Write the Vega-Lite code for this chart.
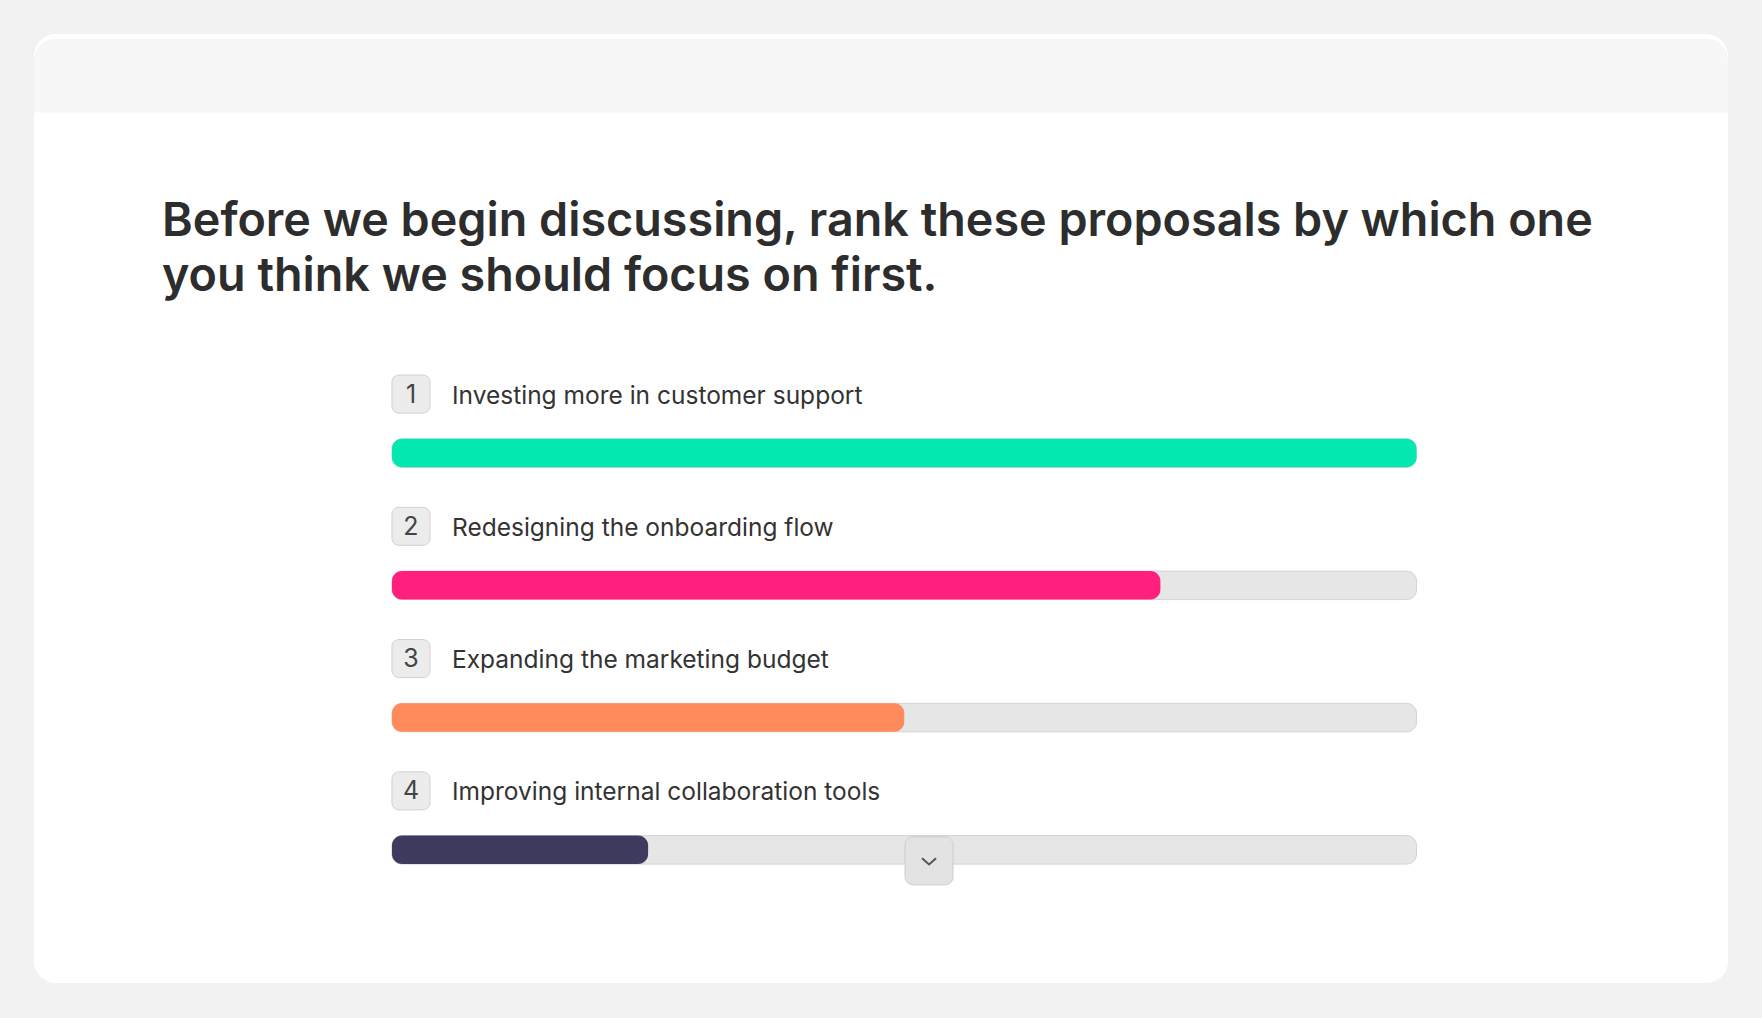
{
  "$schema": "https://vega.github.io/schema/vega-lite/v6.json",
  "width": 1694,
  "height": 949,
  "autosize": {"type": "none"},
  "padding": {"left": 34, "top": 34, "right": 34, "bottom": 35},
  "background": "#f2f2f2",
  "config": {"view": {"fill": "#ffffff", "stroke": null, "cornerRadius": 22}, "font": "Inter"},
  "title": {
    "text": ["Before we begin discussing, rank these proposals by which one", "you think we should focus on first."],
    "anchor": "start",
    "frame": "group",
    "offset": -304,
    "dx": 128,
    "fontSize": 46.7,
    "fontWeight": 600,
    "font": "Inter",
    "color": "#2d2d2d",
    "lineHeight": 55,
    "baseline": "alphabetic"
  },
  "data": {"values": [
    {"rank": 1, "label": "Investing more in customer support", "value": 100},
    {"rank": 2, "label": "Redesigning the onboarding flow", "value": 75},
    {"rank": 3, "label": "Expanding the marketing budget", "value": 50},
    {"rank": 4, "label": "Improving internal collaboration tools", "value": 25}
  ]},
  "layer": [
    {
      "data": {"values": [{}]},
      "mark": {"type": "rect", "fill": "#f7f7f7", "width": 1694, "height": 74, "cornerRadiusTopLeft": 22, "cornerRadiusTopRight": 22},
      "encoding": {
        "x": {"datum": 47.73, "type": "quantitative", "scale": {"domain": [-34.94, 130.4], "nice": false, "zero": false}, "axis": null},
        "y": {"datum": -1.8542, "type": "quantitative", "scale": {"domain": [-2.131, 4.969], "reverse": true, "nice": false, "zero": false}, "axis": null}
      }
    },
    {
      "mark": {"type": "bar", "orient": "horizontal", "fill": "#e6e6e6", "stroke": "#d3d3d3", "strokeWidth": 1, "cornerRadius": 10, "size": 28.5},
      "encoding": {
        "x": {"datum": 100, "type": "quantitative", "stack": null},
        "y": {"field": "rank", "type": "quantitative"}
      }
    },
    {
      "mark": {"type": "bar", "orient": "horizontal", "cornerRadius": 10, "size": 28.5},
      "encoding": {
        "x": {"field": "value", "type": "quantitative", "stack": null},
        "y": {"field": "rank", "type": "quantitative"},
        "color": {
          "field": "label",
          "type": "nominal",
          "scale": {
            "domain": ["Investing more in customer support", "Redesigning the onboarding flow", "Expanding the marketing budget", "Improving internal collaboration tools"],
            "range": ["#03e8b1", "#ff1f7d", "#ff8a5c", "#3e3b5e"]
          },
          "legend": null
        }
      }
    },
    {
      "mark": {"type": "bar", "orient": "horizontal", "fill": "#ececec", "stroke": "#d0d0d0", "strokeWidth": 1, "cornerRadius": 7, "size": 38, "yOffset": -59},
      "encoding": {
        "x": {"datum": 3.71, "type": "quantitative", "stack": null},
        "y": {"field": "rank", "type": "quantitative"}
      }
    },
    {
      "mark": {"type": "text", "align": "center", "baseline": "middle", "dy": -58.5, "fontSize": 25, "color": "#444444", "font": "Inter"},
      "encoding": {
        "x": {"datum": 1.855, "type": "quantitative"},
        "y": {"field": "rank", "type": "quantitative"},
        "text": {"field": "rank", "type": "nominal"}
      }
    },
    {
      "mark": {"type": "text", "align": "left", "baseline": "alphabetic", "dx": 60, "dy": -49.5, "fontSize": 24.5, "color": "#333333", "font": "Inter"},
      "encoding": {
        "x": {"datum": 0, "type": "quantitative"},
        "y": {"field": "rank", "type": "quantitative"},
        "text": {"field": "label", "type": "nominal"}
      }
    },
    {
      "data": {"values": [{}]},
      "mark": {"type": "rect", "fill": "#e3e3e3", "stroke": "#cccccc", "strokeWidth": 1, "cornerRadius": 8, "width": 48, "height": 48, "yOffset": 11},
      "encoding": {
        "x": {"datum": 52.42, "type": "quantitative"},
        "y": {"datum": 4, "type": "quantitative"}
      }
    },
    {
      "data": {"values": [{}]},
      "mark": {"type": "point", "shape": "M-1,-0.45L0,0.45L1,-0.45", "size": 196, "filled": false, "stroke": "#555555", "strokeWidth": 2, "opacity": 1, "yOffset": 11.5},
      "encoding": {
        "x": {"datum": 52.42, "type": "quantitative"},
        "y": {"datum": 4, "type": "quantitative"}
      }
    }
  ]
}
